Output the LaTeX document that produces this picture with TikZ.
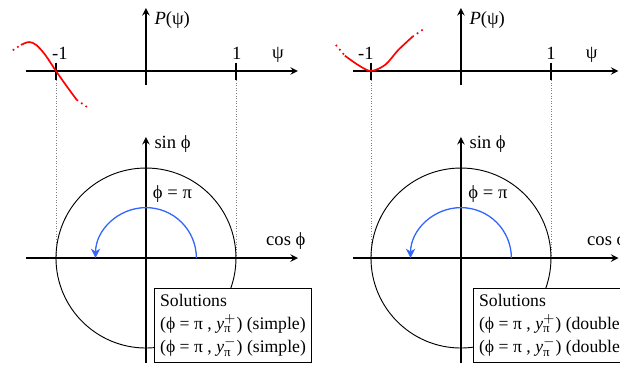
\documentclass[tikz,border=0pt]{standalone}
\usepackage{fontspec}
\setmainfont{Liberation Serif}
\usetikzlibrary{arrows.meta}
\begin{document}
\begin{tikzpicture}[x=1.7cm,y=1.7cm,>=stealth,every node/.style={inner sep=1pt},
  axis/.style={line width=0.8pt,->},
  guide/.style={densely dotted,gray,line width=0.4pt},
  curve/.style={red,line width=0.9pt},
  tail/.style={red,line width=0.9pt,dotted},
  turn/.style={color={rgb,255:red,51;green,102;blue,255},line width=0.7pt,-{Stealth[length=5pt,width=5pt,inset=1.5pt]}},
  solbox/.style={draw,fill=white,align=left,anchor=north west,inner sep=3pt,line width=0.6pt,font=\fontsize{9.5}{12.5}\selectfont}]
  \useasboundingbox (-1.622,-3.289) rectangle (5.267,0.789);
  \clip (-1.622,-3.289) rectangle (5.267,0.789);
  % left: simple root
  \coordinate (Pa) at (0,-0.156);
  \coordinate (Pb) at (0,0.7);
  \coordinate (Xa) at (-1.333,0);
  \coordinate (Xb) at (1.689,0);
  \coordinate (M) at (-1,-0.1);
  \coordinate (N) at (1,-0.1);
  \coordinate (C) at (0,-2.078);
  \coordinate (Sa) at (0,-3.244);
  \coordinate (Sb) at (0,-0.733);
  \coordinate (Ca) at (-1.333,-2.078);
  \coordinate (Cb) at (1.689,-2.078);
  \coordinate (Q) at (-1,-2.078);
  \coordinate (R) at (1,-2.078);
  \coordinate (A) at (0.56,-2.078);
  \draw[guide] (M)--(Q);
  \draw[guide] (N)--(R);
  \draw[axis] (Xa)--(Xb);
  \draw[axis] (Pa)--(Pb);
  \draw[line width=0.8pt] (-1,0.089)--(M);
  \draw[line width=0.8pt] (1,0.089)--(N);
  \draw[tail] (-1.48,0.23)--(-1.39,0.29);
  \draw[curve] plot[smooth] coordinates {(-1.39,0.29) (-1.30,0.322) (-1.22,0.29) (-1.12,0.18) (-1,0) (-0.88,-0.17) (-0.77,-0.32)};
  \draw[tail] (-0.77,-0.32)--(-0.64,-0.41);
  \node (m1) at (-0.956,0.2) {-1};
  \node (p1) at (1.01,0.2) {1};
  \node (psi) at (1.467,0.178) {ψ};
  \node[anchor=west] (P) at (0.07,0.567) {\textit{P}(ψ)};
  \draw[line width=0.5pt] (C) circle (1);
  \draw[axis] (Ca)--(Cb);
  \draw[axis] (Sa)--(Sb);
  \draw[turn] (A) arc (0:180:0.56);
  \fill (Q) circle (0.018);
  \node[anchor=west] (sin) at (0.07,-0.811) {sin ϕ};
  \node (phi) at (0.294,-1.367) {ϕ = π};
  \node[anchor=west] (cos) at (1.311,-1.889) {cos ϕ};
  \node[solbox] (sol) at (0.089,-2.411) {Solutions\\(ϕ = π , \textit{y}$^{+}_{\hbox{\scriptsize π}}$) (simple)\\(ϕ = π , \textit{y}$^{-}_{\hbox{\scriptsize π}}$) (simple)};
  % right: double root
  \begin{scope}[xshift=5.95cm]
    \coordinate (Pa2) at (0,-0.156);
    \coordinate (Pb2) at (0,0.7);
    \coordinate (Xa2) at (-1.196,0);
    \coordinate (Xb2) at (1.75,0);
    \coordinate (M2) at (-1,-0.1);
    \coordinate (N2) at (1,-0.1);
    \coordinate (C2) at (0,-2.078);
    \coordinate (Sa2) at (0,-3.244);
    \coordinate (Sb2) at (0,-0.733);
    \coordinate (Ca2) at (-1.196,-2.078);
    \coordinate (Cb2) at (1.75,-2.078);
    \coordinate (Q2) at (-1,-2.078);
    \coordinate (R2) at (1,-2.078);
    \coordinate (A2) at (0.56,-2.078);
    \draw[guide] (M2)--(Q2);
    \draw[guide] (N2)--(R2);
    \draw[axis] (Xa2)--(Xb2);
    \draw[axis] (Pa2)--(Pb2);
    \draw[line width=0.8pt] (-1,0.089)--(M2);
    \draw[line width=0.8pt] (1,0.089)--(N2);
    \draw[tail] (-1.39,0.29)--(-1.29,0.17);
    \draw[curve] plot[smooth] coordinates {(-1.29,0.17) (-1.14,0.065) (-1,0) (-0.84,0.07) (-0.70,0.23) (-0.54,0.38)};
    \draw[tail] (-0.54,0.38)--(-0.41,0.47);
    \node (m2) at (-1.056,0.2) {-1};
    \node (p2) at (1.0,0.2) {1};
    \node (psi2) at (1.452,0.178) {ψ};
    \node[anchor=west] (P2) at (0.07,0.567) {\textit{P}(ψ)};
    \draw[line width=0.5pt] (C2) circle (1);
    \draw[axis] (Ca2)--(Cb2);
    \draw[axis] (Sa2)--(Sb2);
    \draw[turn] (A2) arc (0:180:0.56);
    \fill (Q2) circle (0.018);
    \node[anchor=west] (sin2) at (0.07,-0.811) {sin ϕ};
    \node (phi2) at (0.3,-1.367) {ϕ = π};
    \node[anchor=west] (cos2) at (1.378,-1.889) {cos ϕ};
    \node[solbox] (sol2) at (0.133,-2.411) {Solutions\\(ϕ = π , \textit{y}$^{+}_{\hbox{\scriptsize π}}$) (double)\\(ϕ = π , \textit{y}$^{-}_{\hbox{\scriptsize π}}$) (double)};
  \end{scope}
\end{tikzpicture}
\end{document}
